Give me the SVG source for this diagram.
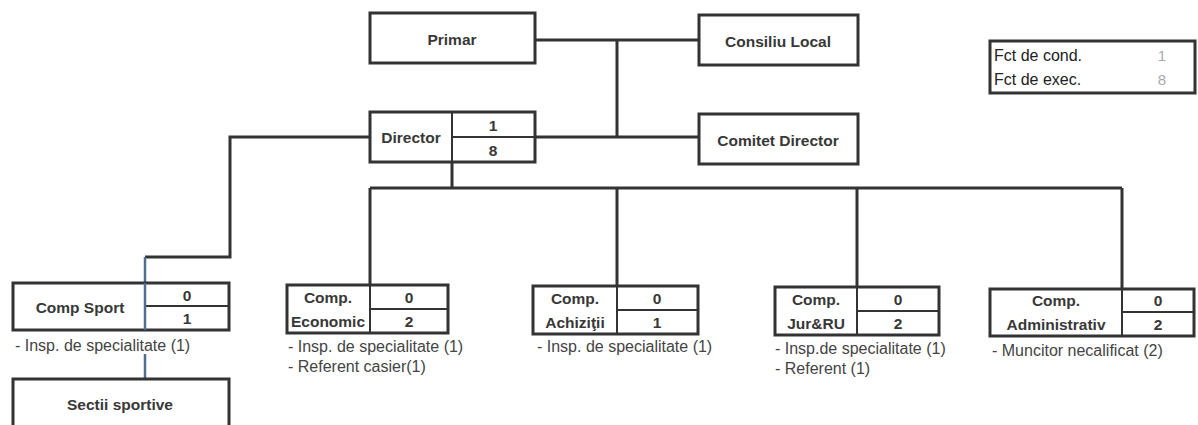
<svg xmlns="http://www.w3.org/2000/svg" width="1198" height="425" viewBox="0 0 1198 425">
<style>
.box{fill:#fff;stroke:#333;stroke-width:3}
.div{stroke:#333;stroke-width:2;fill:none}
.ln{stroke:#333;stroke-width:3;fill:none}
.blue{stroke:#4f6f90;stroke-width:2.5;fill:none}
.t{font-family:"Liberation Sans",Arial,sans-serif;font-weight:bold;font-size:15.5px;fill:#383838;text-anchor:middle;dominant-baseline:central}
.n{font-family:"Liberation Sans",Arial,sans-serif;font-size:16px;fill:#444}
.lg{font-family:"Liberation Sans",Arial,sans-serif;font-size:16px;fill:#222}
.lgn{font-family:"Liberation Sans",Arial,sans-serif;font-size:15px;fill:#aaa;text-anchor:middle}
</style>
<rect width="1198" height="425" fill="#fff"/>
<g id="connectors">
<path class="ln" d="M535 40H699"/>
<path class="ln" d="M617 40V137"/>
<path class="ln" d="M535 137H699"/>
<path class="ln" d="M370 137H230V257H145"/>
<path class="ln" d="M452 162V188"/>
<path class="ln" d="M370 188H1122"/>
<path class="ln" d="M370 188V285"/>
<path class="ln" d="M617 188V286"/>
<path class="ln" d="M857 188V287"/>
<path class="ln" d="M1122 188V289"/>
<path class="blue" d="M145 257V283"/>
<path class="blue" d="M145 354V379"/>
</g>
<g id="primar">
<rect class="box" x="370" y="13" width="165" height="50"/>
<text class="t" x="452" y="39">Primar</text>
</g>
<g id="consiliu">
<rect class="box" x="699" y="15" width="159" height="50"/>
<text class="t" x="778" y="41">Consiliu Local</text>
</g>
<g id="director">
<rect class="box" x="370" y="112" width="165" height="50"/>
<path class="div" d="M452 112V162M452 137H535"/>
<text class="t" x="411" y="137">Director</text>
<text class="t" x="493" y="125">1</text>
<text class="t" x="493" y="150">8</text>
</g>
<g id="comitet">
<rect class="box" x="699" y="114" width="159" height="50"/>
<text class="t" x="778" y="140">Comitet Director</text>
</g>
<g id="legend">
<rect class="box" x="990" y="41" width="205" height="52" stroke-width="2.5"/>
<text class="lg" x="994" y="61">Fct de cond.</text>
<text class="lgn" x="1162" y="61">1</text>
<text class="lg" x="994" y="85">Fct de exec.</text>
<text class="lgn" x="1162" y="85">8</text>
</g>
<g id="comp-sport">
<rect class="box" x="13" y="283" width="216" height="47"/>
<path class="div" d="M145 306H229"/>
<path class="blue" d="M145 283V330"/>
<text class="t" x="80" y="307">Comp Sport</text>
<text class="t" x="187" y="295">0</text>
<text class="t" x="187" y="318">1</text>
<text class="n" x="15" y="351">- Insp. de specialitate (1)</text>
</g>
<g id="sectii">
<rect class="box" x="13" y="379" width="216" height="60"/>
<text class="t" x="120" y="404">Sectii sportive</text>
</g>
<g id="comp-economic">
<rect class="box" x="287" y="285" width="161" height="48"/>
<path class="div" d="M370 285V333M370 309H448"/>
<text class="t" x="328" y="297">Comp.</text>
<text class="t" x="328" y="321">Economic</text>
<text class="t" x="409" y="297">0</text>
<text class="t" x="409" y="321">2</text>
<text class="n" x="288" y="352">- Insp. de specialitate (1)</text>
<text class="n" x="288" y="372">- Referent casier(1)</text>
</g>
<g id="comp-achizitii">
<rect class="box" x="533" y="286" width="165" height="48"/>
<path class="div" d="M617 286V334M617 310H698"/>
<text class="t" x="575" y="298">Comp.</text>
<text class="t" x="575" y="322">Achiziţii</text>
<text class="t" x="657" y="298">0</text>
<text class="t" x="657" y="322">1</text>
<text class="n" x="537" y="352">- Insp. de specialitate (1)</text>
</g>
<g id="comp-jur">
<rect class="box" x="775" y="287" width="164" height="48"/>
<path class="div" d="M857 287V335M857 311H939"/>
<text class="t" x="816" y="299">Comp.</text>
<text class="t" x="816" y="323">Jur&amp;RU</text>
<text class="t" x="898" y="299">0</text>
<text class="t" x="898" y="323">2</text>
<text class="n" x="775" y="354">- Insp.de specialitate (1)</text>
<text class="n" x="775" y="374">- Referent (1)</text>
</g>
<g id="comp-administrativ">
<rect class="box" x="990" y="289" width="204" height="47"/>
<path class="div" d="M1122 289V336M1122 312H1194"/>
<text class="t" x="1056" y="300">Comp.</text>
<text class="t" x="1056" y="324">Administrativ</text>
<text class="t" x="1158" y="300">0</text>
<text class="t" x="1158" y="324">2</text>
<text class="n" x="992" y="356">- Muncitor necalificat (2)</text>
</g>
</svg>
